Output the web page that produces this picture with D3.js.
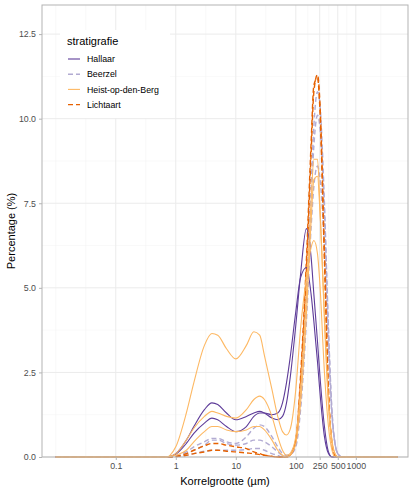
<!DOCTYPE html>
<html><head><meta charset="utf-8">
<script src="https://cdn.jsdelivr.net/npm/d3@7/dist/d3.min.js"></script>
<style>body{margin:0;background:#fff}</style></head>
<body><svg id="c" width="414" height="491"></svg>
<script>
const sizes = [0.01,0.1,0.5,0.7,0.8,1,1.5,2,3,4,5,7,10,15,20,25,30,40,50,60,70,80,100,120,150,180,200,230,250,300,350,400,450,500,600,800,1000,2000,5000];
const groups = ["Hallaar","Beerzel","Heist-op-den-Berg","Lichtaart"];
const colors = ["#5e3c99","#b2abd2","#fdb863","#e66101"];
const dashed = [false,true,false,true];
const xTicks = [0.1,1,10,100,250,500,1000];
const yTicks = [0,2.5,5,7.5,10,12.5];
const samples = [
 {g:0, v:[0,0,0,0,0.02,0.1,0.5,0.9,1.4,1.6,1.55,1.3,1.1,1.2,1.3,1.35,1.3,1.15,1.1,1.2,1.6,2.3,3.9,5.4,6.75,5.9,4.8,3.4,2.5,0.9,0.15,0,0,0,0,0,0,0,0]},
 {g:0, v:[0,0,0,0,0.01,0.08,0.4,0.7,1.0,1.15,1.1,0.9,0.75,0.9,1.2,1.3,1.3,1.25,1.3,1.6,2.2,2.9,4.3,5.3,5.6,4.8,4.0,2.8,2.0,0.6,0.1,0,0,0,0,0,0,0,0]},
 {g:2, v:[0,0,0,0,0.05,0.3,1.3,2.2,3.3,3.65,3.6,3.2,2.9,3.3,3.7,3.6,3.0,2.0,1.2,0.75,0.65,0.8,2.0,3.8,5.3,6.2,6.4,6.0,5.2,2.5,0.9,0.2,0,0,0,0,0,0,0]},
 {g:2, v:[0,0,0,0,0.02,0.1,0.5,0.85,1.2,1.35,1.3,1.2,1.15,1.4,1.7,1.8,1.7,1.2,0.6,0.2,0.05,0.1,0.6,2.0,4.8,7.6,8.8,8.8,7.6,4.0,1.5,0.4,0.1,0,0,0,0,0,0]},
 {g:2, v:[0,0,0,0,0.01,0.05,0.2,0.45,0.75,0.9,0.9,0.8,0.75,0.8,0.9,0.9,0.8,0.5,0.2,0.05,0,0.05,0.4,1.6,4.2,7.0,8.2,8.3,7.4,4.2,1.7,0.5,0.1,0,0,0,0,0,0]},
 {g:1, v:[0,0,0,0,0,0.03,0.15,0.3,0.45,0.55,0.55,0.45,0.4,0.6,0.85,0.95,0.9,0.6,0.3,0.1,0.05,0.1,0.5,1.8,4.8,8.0,9.8,10.8,10.5,7.5,3.8,1.4,0.4,0.1,0,0,0,0,0]},
 {g:1, v:[0,0,0,0,0,0.02,0.1,0.2,0.35,0.5,0.5,0.4,0.35,0.4,0.5,0.5,0.45,0.3,0.15,0.05,0.02,0.05,0.4,1.6,4.5,7.6,9.2,10.1,9.8,7.2,3.7,1.3,0.4,0.1,0,0,0,0,0]},
 {g:1, v:[0,0,0,0,0,0.01,0.05,0.1,0.17,0.2,0.2,0.2,0.2,0.22,0.25,0.25,0.2,0.1,0.05,0,0,0.05,0.3,1.4,4.0,6.8,8.0,8.6,8.3,6.2,3.2,1.2,0.4,0.1,0,0,0,0,0]},
 {g:3, v:[0,0,0,0,0,0.02,0.1,0.2,0.33,0.4,0.4,0.35,0.3,0.25,0.15,0.1,0.05,0.02,0,0,0,0.05,0.5,2.2,5.5,9.0,10.8,11.3,10.6,6.0,2.0,0.4,0.05,0,0,0,0,0,0]},
 {g:3, v:[0,0,0,0,0,0.01,0.05,0.1,0.15,0.2,0.2,0.17,0.15,0.12,0.1,0.07,0.05,0.02,0,0,0,0.05,0.5,2.4,5.8,9.3,11.0,11.2,10.4,5.8,1.9,0.4,0.05,0,0,0,0,0,0]}
];
const svg = d3.select("#c");
const L=42,R=408,T=5,B=457;
const x = d3.scaleLog().domain([0.0059,7400]).range([L,R]);
const y = d3.scaleLinear().domain([0,13.36]).range([B,T]);
// grid
const minorX=[0.01,0.0316,0.316,3.16,31.6,158,354,707,2600];
const minorY=[1.25,3.75,6.25,8.75,11.25];
const g=svg.append("g");
minorX.forEach(v=>g.append("line").attr("x1",x(v)).attr("x2",x(v)).attr("y1",T).attr("y2",B).attr("stroke","#f3f3f3").attr("stroke-width",0.5));
minorY.forEach(v=>g.append("line").attr("x1",L).attr("x2",R).attr("y1",y(v)).attr("y2",y(v)).attr("stroke","#f3f3f3").attr("stroke-width",0.5));
xTicks.forEach(v=>g.append("line").attr("x1",x(v)).attr("x2",x(v)).attr("y1",T).attr("y2",B).attr("stroke","#ebebeb").attr("stroke-width",1));
yTicks.forEach(v=>g.append("line").attr("x1",L).attr("x2",R).attr("y1",y(v)).attr("y2",y(v)).attr("stroke","#ebebeb").attr("stroke-width",1));
// lines
const line=d3.line().x((d,i)=>x(sizes[i])).y(d=>y(d)).curve(d3.curveMonotoneX);
[1,3,0,2].forEach(gi=>{
 samples.filter(s=>s.g===gi).forEach(s=>{
  svg.append("path").attr("d",line(s.v)).attr("fill","none").attr("stroke",colors[gi])
   .attr("stroke-width",dashed[gi]?1.4:1.1).attr("stroke-dasharray",dashed[gi]?"5,3":null);
 });
});
// border
svg.append("rect").attr("x",L).attr("y",T).attr("width",R-L).attr("height",B-T).attr("fill","none").attr("stroke","#b3b3b3").attr("stroke-width",1);
// axes
const xa=svg.append("g").attr("transform",`translate(0,${B})`).call(d3.axisBottom(x).tickValues(xTicks).tickFormat(d=>d).tickSize(3).tickPadding(3));
const ya=svg.append("g").attr("transform",`translate(${L},0)`).call(d3.axisLeft(y).tickValues(yTicks).tickFormat(d3.format(".1f")).tickSize(3).tickPadding(3));
[xa,ya].forEach(a=>{a.select(".domain").remove();a.selectAll("line").attr("stroke","#b3b3b3");
 a.selectAll("text").attr("fill","#4d4d4d").style("font-family","Liberation Sans, Arial, sans-serif").style("font-size","8.8px");});
svg.append("text").attr("x",225).attr("y",485).attr("text-anchor","middle").style("font-family","Liberation Sans, Arial, sans-serif").style("font-size","11px").text("Korrelgrootte (µm)");
svg.append("text").attr("transform",`translate(15,231) rotate(-90)`).attr("text-anchor","middle").style("font-family","Liberation Sans, Arial, sans-serif").style("font-size","11px").text("Percentage (%)");
// legend
const lg=svg.append("g");
lg.append("rect").attr("x",60).attr("y",30).attr("width",110).attr("height",88).attr("fill","#fff");
lg.append("text").attr("x",67).attr("y",45).style("font-family","Liberation Sans, Arial, sans-serif").style("font-size","11px").text("stratigrafie");
groups.forEach((n,i)=>{
 const yy=59+i*15.2;
 lg.append("line").attr("x1",68).attr("x2",80).attr("y1",yy).attr("y2",yy).attr("stroke",colors[i]).attr("stroke-width",dashed[i]?1.4:1.1).attr("stroke-dasharray",dashed[i]?"5,3":null);
 lg.append("text").attr("x",87).attr("y",yy+3.2).style("font-family","Liberation Sans, Arial, sans-serif").style("font-size","8.8px").text(n);
});
</script></body></html>
